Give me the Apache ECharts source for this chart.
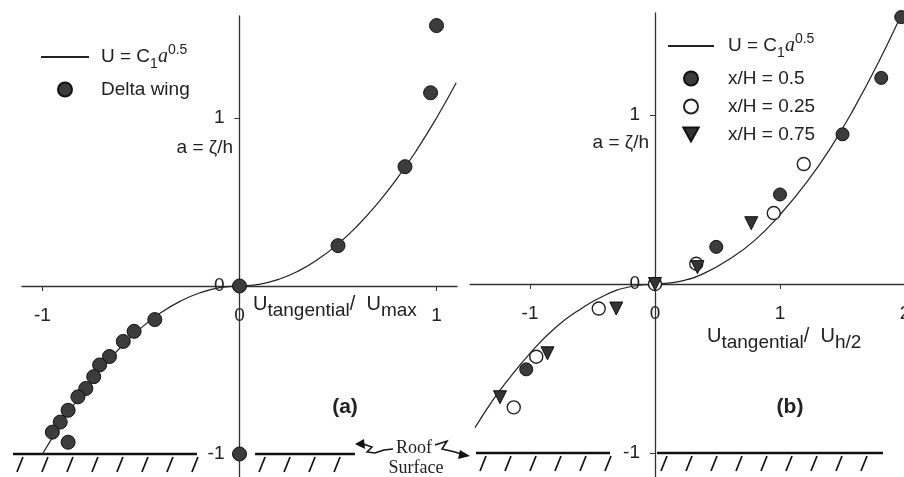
<!DOCTYPE html>
<html>
<head>
<meta charset="utf-8">
<script src="https://cdn.jsdelivr.net/npm/echarts@6/dist/echarts.min.js"></script>
<style>html,body{margin:0;padding:0;background:#fff}#c{width:904px;height:477px}</style>
</head>
<body>
<div id="c"></div>
<script>
// ---------- data ----------
// Panel (a): fitted curve U = C1 a^0.5 (x = U/Umax, y = a)
const curveA_U = [-1.0, -0.9, -0.8, -0.7, -0.6, -0.5, -0.4, -0.3, -0.2, -0.1, 0, 0.1, 0.2, 0.3, 0.4, 0.5, 0.6, 0.7, 0.8, 0.9, 1.0, 1.1];
const curveA_a = [-1.0, -0.81, -0.64, -0.49, -0.36, -0.25, -0.16, -0.09, -0.04, -0.01, 0, 0.01, 0.04, 0.09, 0.16, 0.25, 0.36, 0.49, 0.64, 0.81, 1.0, 1.21];
// Panel (a): delta wing points
const deltaU = [1.0, 0.97, 0.84, 0.50, 0, -0.43, -0.535, -0.59, -0.66, -0.71, -0.74, -0.78, -0.82, -0.87, -0.91, -0.95, -0.87, 0];
const deltaA = [1.55, 1.15, 0.71, 0.24, 0, -0.20, -0.27, -0.33, -0.42, -0.47, -0.54, -0.61, -0.66, -0.74, -0.81, -0.87, -0.93, -1.0];

// Panel (b): fitted curve (x = U/U_h/2, y = a)
const curveB_U = [-1.44, -1.3, -1.2, -1.0, -0.8, -0.6, -0.4, -0.2, 0, 0.2, 0.4, 0.6, 0.8, 1.0, 1.2, 1.4, 1.6, 1.8, 2.0, 2.06];
const curveB_a = [-0.85, -0.69, -0.59, -0.41, -0.26, -0.15, -0.066, -0.016, 0, 0.016, 0.066, 0.15, 0.26, 0.41, 0.59, 0.80, 1.05, 1.33, 1.64, 1.74];
// Panel (b): x/H = 0.5 (filled circles)
const h050U = [1.97, 1.81, 1.50, 1.0, 0.49, 0, -1.03];
const h050A = [1.58, 1.22, 0.886, 0.53, 0.22, 0, -0.505];
// Panel (b): x/H = 0.25 (open circles)
const h025U = [1.19, 0.95, 0.33, 0, -0.45, -0.95, -1.13];
const h025A = [0.71, 0.42, 0.12, 0, -0.145, -0.43, -0.73];
// Panel (b): x/H = 0.75 (down triangles)
const h075U = [0.77, 0.34, 0, -0.31, -0.86, -1.24];
const h075A = [0.36, 0.10, 0, -0.145, -0.41, -0.67];

// Roof surface segments [from U, to U, at a]
const roofA = [[-1.15, -0.216, -1], [0.079, 0.586, -1]];
const roofB = [[-1.432, -0.36, -1], [0.016, 1.824, -1]];

// tick labels
const ticksAx = [-1, 0, 1];
const ticksBx = [-1, 0, 1, 2];
const ticksY = [-1, 0, 1];

const seriesNames = { fit: 'fit', delta: 'Delta wing', h05: 'x/H = 0.5', h025: 'x/H = 0.25', h075: 'x/H = 0.75' };

// ---------- chart ----------
const zip = (xs, ys) => xs.map((x, i) => [x, ys[i]]);
const FONT = 'Liberation Sans, Arial, sans-serif';
const INK = '#222';

const grids = [
  { left: 22, top: 16, width: 435, height: 461, x: [-1.104, 1.104], y: [-1.137, 1.607] },
  { left: 470, top: 13, width: 449, height: 464, x: [-1.48, 2.112], y: [-1.142, 1.604] }
];
// axis offsets so that the axes cross at the origin
const zeroOffX = g => -g.height * (0 - g.y[0]) / (g.y[1] - g.y[0]);
const zeroOffY = g => -g.width * (0 - g.x[0]) / (g.x[1] - g.x[0]);

function axisX(gi, ticks) {
  const g = grids[gi];
  return {
    type: 'value', gridIndex: gi, min: g.x[0], max: g.x[1], position: 'bottom', offset: zeroOffX(g),
    axisLine: { onZero: false, lineStyle: { color: '#333', width: 1.3 } },
    axisTick: { show: true, length: 5, customValues: ticks, lineStyle: { color: '#333' } },
    axisLabel: { customValues: ticks, margin: 20, fontSize: 19, color: INK, fontFamily: FONT },
    splitLine: { show: false }
  };
}
function axisY(gi, ticks) {
  const g = grids[gi];
  return {
    type: 'value', gridIndex: gi, min: g.y[0], max: g.y[1], position: 'left', offset: zeroOffY(g),
    axisLine: { onZero: false, lineStyle: { color: '#333', width: 1.3 } },
    axisTick: { show: true, length: 5, customValues: ticks, lineStyle: { color: '#333' } },
    axisLabel: { customValues: ticks, margin: 15, fontSize: 19, color: INK, fontFamily: FONT },
    splitLine: { show: false }
  };
}

function roofRender(params, api) {
  const p1 = api.coord([api.value(0), api.value(2)]);
  const p2 = api.coord([api.value(1), api.value(2)]);
  const children = [{
    type: 'line', shape: { x1: p1[0], y1: p1[1], x2: p2[0], y2: p2[1] },
    style: { stroke: '#111', lineWidth: 2.6 }
  }];
  for (let x = p1[0] + 10; x <= p2[0] + 1; x += 25) {
    children.push({
      type: 'line', shape: { x1: x, y1: p1[1] + 3, x2: x - 6, y2: p1[1] + 18 },
      style: { stroke: '#111', lineWidth: 1.7 }
    });
  }
  return { type: 'group', children: children };
}

const dotStyle = { color: '#3c3c3c', borderColor: '#111', borderWidth: 1, opacity: 1 };

const legendRich = {
  m: { fontSize: 19, lineHeight: 28, fontFamily: FONT, color: INK },
  s: { fontSize: 14, lineHeight: 14, verticalAlign: 'bottom', fontFamily: FONT, color: INK },
  i: { fontSize: 20, lineHeight: 28, fontStyle: 'italic', fontFamily: 'Liberation Serif, serif', color: INK },
  p: { fontSize: 14, lineHeight: 12, verticalAlign: 'top', fontFamily: FONT, color: INK }
};
const legendFmt = n => n === 'fit' ? '{m|U = C}{s|1}{i|a}{p|0.5}' : '{m|' + n + '}';
const fitLegendItem = { name: 'fit', itemStyle: { opacity: 0 } };
const triLegendItem = { name: seriesNames.h075, icon: 'path://M0,0L12,0L6,11Z' };

const nameRich = {
  m: { fontSize: 20, lineHeight: 32, fontFamily: FONT, fill: INK },
  s: { fontSize: 19, lineHeight: 18, verticalAlign: 'bottom', fontFamily: FONT, fill: INK }
};

const option = {
  animation: false,
  backgroundColor: '#fff',
  grid: grids.map(g => ({ left: g.left, top: g.top, width: g.width, height: g.height, containLabel: false, outerBoundsMode: 'none' })),
  xAxis: [axisX(0, ticksAx), axisX(1, ticksBx)],
  yAxis: [axisY(0, ticksY), axisY(1, ticksY)],
  legend: [
    {
      data: [fitLegendItem, seriesNames.delta], orient: 'vertical', left: 40, top: 43, padding: 0,
      itemWidth: 48, itemHeight: 14, itemGap: 9, formatter: legendFmt, symbolKeepAspect: true,
      textStyle: { rich: legendRich, padding: [0, 0, 0, 7] }, selectedMode: false
    },
    {
      data: [fitLegendItem, seriesNames.h05, seriesNames.h025, triLegendItem], orient: 'vertical', left: 667, top: 32, padding: 0,
      itemWidth: 46, itemHeight: 14, itemGap: 9, formatter: legendFmt, symbolKeepAspect: true,
      textStyle: { rich: legendRich, padding: [0, 0, 0, 9] }, selectedMode: false
    }
  ],
  series: [
    { name: 'fit', type: 'line', xAxisIndex: 0, yAxisIndex: 0, data: zip(curveA_U, curveA_a), smooth: true,
      symbol: 'none', lineStyle: { color: '#222', width: 1.2 }, itemStyle: { color: '#222' }, z: 2 },
    { name: seriesNames.delta, type: 'scatter', xAxisIndex: 0, yAxisIndex: 0, data: zip(deltaU, deltaA),
      symbolSize: 14, itemStyle: dotStyle, z: 4 },
    { type: 'custom', xAxisIndex: 0, yAxisIndex: 0, data: roofA, renderItem: roofRender, clip: false, silent: true, z: 1 },

    { name: 'fit', type: 'line', xAxisIndex: 1, yAxisIndex: 1, data: zip(curveB_U, curveB_a), smooth: true,
      symbol: 'none', lineStyle: { color: '#222', width: 1.2 }, itemStyle: { color: '#222' }, z: 2 },
    { name: seriesNames.h05, type: 'scatter', xAxisIndex: 1, yAxisIndex: 1, data: zip(h050U, h050A),
      symbolSize: 13, itemStyle: dotStyle, z: 4 },
    { name: seriesNames.h025, type: 'scatter', xAxisIndex: 1, yAxisIndex: 1, data: zip(h025U, h025A),
      symbolSize: 13, itemStyle: { color: '#fff', borderColor: '#222', borderWidth: 1.4, opacity: 1 }, z: 4 },
    { name: seriesNames.h075, type: 'scatter', xAxisIndex: 1, yAxisIndex: 1, data: zip(h075U, h075A),
      symbol: 'triangle', symbolRotate: 180, symbolSize: 13, itemStyle: { color: '#333', borderColor: '#111', borderWidth: 1, opacity: 1 }, z: 5 },
    { type: 'custom', xAxisIndex: 1, yAxisIndex: 1, data: roofB, renderItem: roofRender, clip: false, silent: true, z: 1 }
  ],
  graphic: [
    // y axis names
    { type: 'text', x: 233, y: 148, style: { text: 'a = ζ/h', font: '19px ' + FONT, fill: INK, align: 'right', verticalAlign: 'middle' } },
    { type: 'text', x: 649, y: 143, style: { text: 'a = ζ/h', font: '19px ' + FONT, fill: INK, align: 'right', verticalAlign: 'middle' } },
    // x axis names
    { type: 'text', x: 253, y: 304, style: { text: '{m|U}{s|tangential}{m|/  U}{s|max}', rich: nameRich, align: 'left', verticalAlign: 'middle' } },
    { type: 'text', x: 707, y: 336, style: { text: '{m|U}{s|tangential}{m|/  U}{s|h/2}', rich: nameRich, align: 'left', verticalAlign: 'middle' } },
    // panel labels
    { type: 'text', x: 345, y: 407, style: { text: '(a)', font: 'bold 21px ' + FONT, fill: INK, align: 'center', verticalAlign: 'middle' } },
    { type: 'text', x: 790, y: 407, style: { text: '(b)', font: 'bold 21px ' + FONT, fill: INK, align: 'center', verticalAlign: 'middle' } },
    // roof surface annotation
    { type: 'text', x: 414, y: 448, style: { text: 'Roof', font: '18px Liberation Serif, serif', fill: INK, align: 'center', verticalAlign: 'middle' } },
    { type: 'text', x: 416, y: 468, style: { text: 'Surface', font: '18px Liberation Serif, serif', fill: INK, align: 'center', verticalAlign: 'middle' } },
    { type: 'polyline', shape: { points: [[393, 449], [384, 450], [375, 453], [367, 452], [372, 447], [363, 444]] }, style: { stroke: '#111', lineWidth: 1.5, fill: null } },
    { type: 'polygon', shape: { points: [[355, 444], [364, 439], [365, 449]] }, style: { fill: '#111' } },
    { type: 'polyline', shape: { points: [[435, 445], [447, 441], [442, 449], [455, 452], [461, 454]] }, style: { stroke: '#111', lineWidth: 1.5, fill: null } },
    { type: 'polygon', shape: { points: [[470, 456], [460, 450], [458, 459]] }, style: { fill: '#111' } }
  ]
};

const chart = echarts.init(document.getElementById('c'), null, { renderer: 'canvas' });
chart.setOption(option);
</script>
</body>
</html>
